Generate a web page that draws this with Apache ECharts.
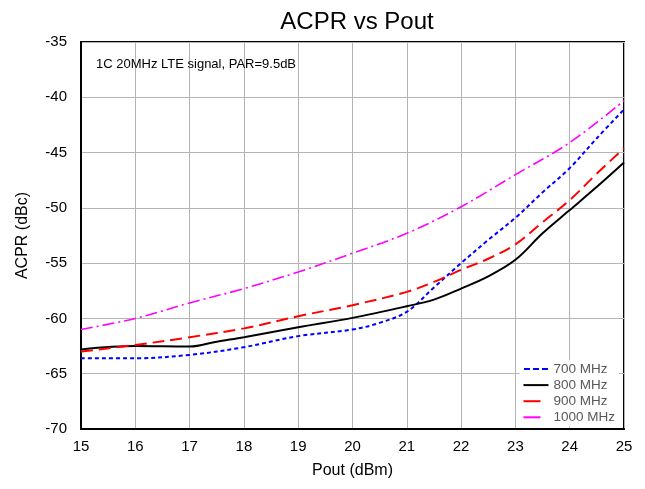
<!DOCTYPE html>
<html>
<head>
<meta charset="utf-8">
<script src="https://cdn.jsdelivr.net/npm/echarts@6/dist/echarts.min.js"></script>
<style>html,body{margin:0;padding:0;background:#fff;}#c{width:645px;height:489px;}</style>
</head>
<body>
<div id="c"></div>
<script>
const xTicks = [15, 16, 17, 18, 19, 20, 21, 22, 23, 24, 25];
const yTicks = [-70, -65, -60, -55, -50, -45, -40, -35];
const seriesNames = ['700 MHz', '800 MHz', '900 MHz', '1000 MHz'];

const pout700 = [15, 16, 17, 18, 19, 20, 20.5, 21, 21.5, 22, 22.5, 23, 23.5, 24, 24.5, 25];
const acpr700 = [-63.6, -63.6, -63.3, -62.6, -61.6, -61.0, -60.4, -59.4, -57.2, -55.0, -52.9, -50.9, -48.6, -46.4, -43.7, -41.1];

const pout800 = [15, 16, 17, 17.5, 18, 19, 20, 21, 21.5, 22, 22.5, 23, 23.5, 24, 24.5, 25];
const acpr800 = [-62.8, -62.5, -62.55, -62.1, -61.7, -60.8, -59.95, -58.9, -58.3, -57.3, -56.2, -54.7, -52.3, -50.2, -48.1, -45.9];

const pout900 = [15, 16, 17, 18, 19, 20, 21, 21.5, 22, 22.5, 23, 23.5, 24, 24.5, 25];
const acpr900 = [-63.0, -62.4, -61.7, -60.9, -59.8, -58.8, -57.6, -56.7, -55.6, -54.6, -53.3, -51.3, -49.3, -46.9, -44.6];

const pout1000 = [15, 16, 17, 18, 19, 20, 21, 22, 23, 24, 25];
const acpr1000 = [-61.0, -60.0, -58.6, -57.3, -55.8, -54.1, -52.3, -49.9, -47.0, -44.1, -40.3];

function pairs(xs, ys) { return xs.map((x, i) => [x, ys[i]]); }

const font = 'Liberation Sans, Arial, sans-serif';
const legendIcons = [
  'path://M0,0h6v2h-6zM9,0h6v2h-6zM18,0h6v2h-6z',
  'path://M0,0h25v2h-25z',
  'path://M0,0h17v2h-17zM25,1',
  'path://M0,0h17v2h-17zM25,1'
];
const chart = echarts.init(document.getElementById('c'));
const mk = (name, xs, ys, color, type, width) => ({
  name, type: 'line', data: pairs(xs, ys), smooth: 0.35, showSymbol: false, symbol: 'none',
  lineStyle: { color, type, width }, itemStyle: { color }, z: 3
});
chart.setOption({
  animation: false,
  title: [
    { text: 'ACPR vs Pout', left: 352, top: 5, textAlign: 'center',
      textStyle: { fontFamily: font, fontSize: 24, fontWeight: 'normal', color: '#000' } },
    { text: '1C 20MHz LTE signal, PAR=9.5dB', left: 91, top: 53,
      textStyle: { fontFamily: font, fontSize: 13, fontWeight: 'normal', color: '#000' } }
  ],
  grid: { left: 81, right: 21, top: 42, bottom: 60, show: true, borderColor: '#000', borderWidth: 2, backgroundColor: 'transparent' },
  legend: {
    show: true,
    data: seriesNames.map((n, i) => ({ name: n, icon: legendIcons[i] })),
    orient: 'vertical', right: 26, top: 360, itemWidth: 25, itemHeight: 2, itemGap: 2.1,
    backgroundColor: '#fff', padding: [2, 4, 2, 4], z: 10,
    textStyle: { fontFamily: font, fontSize: 13.5, lineHeight: 13, color: '#595959' }
  },
  xAxis: {
    type: 'value', min: 15, max: 25, interval: 1,
    name: 'Pout (dBm)', nameLocation: 'middle', nameGap: 34,
    nameTextStyle: { fontFamily: font, fontSize: 16, color: '#000' },
    axisLine: { lineStyle: { color: '#000', width: 2 } },
    axisTick: { show: false },
    axisLabel: { fontFamily: font, fontSize: 15, color: '#000', margin: 10 },
    splitLine: { lineStyle: { color: '#b4b4b4', width: 1 } }
  },
  yAxis: {
    type: 'value', min: -70, max: -35, interval: 5,
    name: 'ACPR (dBc)', nameLocation: 'middle', nameGap: 50,
    nameTextStyle: { fontFamily: font, fontSize: 16, color: '#000' },
    axisLine: { show: true, lineStyle: { color: '#000', width: 2 } },
    axisTick: { show: false },
    axisLabel: { fontFamily: font, fontSize: 15, color: '#000', margin: 14 },
    splitLine: { lineStyle: { color: '#b4b4b4', width: 1 } }
  },
  series: [
    mk('700 MHz', pout700, acpr700, '#0000ff', [4, 3], 2),
    mk('800 MHz', pout800, acpr800, '#000000', 'solid', 2),
    mk('900 MHz', pout900, acpr900, '#ff0000', [12, 6], 2),
    mk('1000 MHz', pout1000, acpr1000, '#ff00ff', [12, 4, 2, 4], 1.6)
  ]
});
</script>
</body>
</html>
